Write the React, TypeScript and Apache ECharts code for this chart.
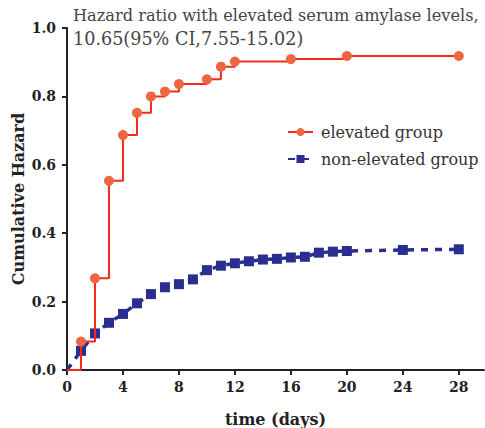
import React, { useEffect, useRef } from "react";
import * as echarts from "echarts";

const elevatedDays = [0, 1, 2, 3, 4, 5, 6, 7, 8, 10, 11, 12, 16, 20, 28];
const elevatedValues = [0, 0.083, 0.268, 0.553, 0.687, 0.752, 0.8, 0.814, 0.836, 0.85, 0.887, 0.902, 0.909, 0.918, 0.918];

const nonElevatedDays = [0, 1, 2, 3, 4, 5, 6, 7, 8, 9, 10, 11, 12, 13, 14, 15, 16, 17, 18, 19, 20, 24, 28];
const nonElevatedValues = [0, 0.056, 0.107, 0.138, 0.164, 0.195, 0.222, 0.242, 0.251, 0.265, 0.292, 0.305, 0.312, 0.318, 0.323, 0.325, 0.329, 0.331, 0.343, 0.346, 0.348, 0.351, 0.353];

const xTicks = [0, 4, 8, 12, 16, 20, 24, 28];
const titleLines = ["Hazard ratio with elevated serum amylase levels,", "10.65(95% CI,7.55-15.02)"];
const seriesNames = ["elevated group", "non-elevated group"];

const FONT = "DejaVu Serif";

export default function App() {
  const ref = useRef<HTMLDivElement>(null);
  useEffect(() => {
    if (!ref.current) return;
    const chart = echarts.init(ref.current, undefined, { renderer: "svg" });
    const red = elevatedDays.map((d, i) => ({
      value: [d, elevatedValues[i]],
      symbolSize: i === 0 ? 0 : 10,
    }));
    const blue = nonElevatedDays.map((d, i) => ({
      value: [d, nonElevatedValues[i]],
      symbolSize: i === 0 ? 0 : 10,
    }));
    chart.setOption({
      animation: false,
      backgroundColor: "#ffffff",
      title: {
        text: `{a|${titleLines[0]}}\n{b|${titleLines[1]}}`,
        left: 73,
        top: 4,
        padding: 0,
        textStyle: {
          fontFamily: FONT,
          fontWeight: "normal",
          color: "#444",
          rich: {
            a: { fontFamily: FONT, fontSize: 16.2, color: "#444", lineHeight: 23 },
            b: { fontFamily: FONT, fontSize: 17.6, color: "#444", lineHeight: 23 },
          },
        },
      },
      legend: {
        orient: "vertical",
        left: 282,
        top: 119,
        itemWidth: 25,
        itemHeight: 10,
        itemGap: 11,
        data: seriesNames,
        textStyle: {
          fontFamily: FONT,
          fontSize: 16,
          color: "#333",
          padding: [0, 0, 0, 3],
        },
      },
      grid: { left: 67, right: 1, top: 28, bottom: 58, containLabel: false, outerBoundsMode: "none" },
      xAxis: {
        type: "value",
        min: 0,
        max: 29.8,
        interval: 4,
        name: "time (days)",
        nameLocation: "middle",
        nameGap: 41,
        nameMoveOverlap: false,
        nameTextStyle: { fontFamily: FONT, fontSize: 16, fontWeight: "bold", color: "#222" },
        axisLine: { show: true, lineStyle: { color: "#222", width: 2 } },
        axisTick: { show: true, length: 5, lineStyle: { width: 2, color: "#222" }, customValues: xTicks },
        axisLabel: {
          customValues: xTicks,
          fontFamily: FONT,
          fontSize: 14,
          fontWeight: "bold",
          color: "#222",
          margin: 10,
        },
        splitLine: { show: false },
      },
      yAxis: {
        type: "value",
        min: 0,
        max: 1,
        interval: 0.2,
        name: "Cumulative Hazard",
        nameLocation: "middle",
        nameGap: 41,
        nameMoveOverlap: false,
        nameTextStyle: { fontFamily: FONT, fontSize: 16, fontWeight: "bold", color: "#222" },
        axisLine: { show: true, lineStyle: { color: "#222", width: 2 } },
        axisTick: { show: true, length: 5, lineStyle: { width: 2, color: "#222" } },
        axisLabel: {
          formatter: (v: number) => v.toFixed(1),
          fontFamily: FONT,
          fontSize: 14,
          fontWeight: "bold",
          color: "#222",
          margin: 11,
        },
        splitLine: { show: false },
      },
      series: [
        {
          name: seriesNames[0],
          type: "line",
          step: "end",
          data: red,
          symbol: "circle",
          itemStyle: { color: "#EE6541" },
          lineStyle: { color: "#F5291E", width: 2 },
          z: 3,
        },
        {
          name: seriesNames[1],
          type: "line",
          data: blue,
          symbol: "rect",
          itemStyle: { color: "#2A2E91" },
          lineStyle: { color: "#2A2E91", width: 3.5, type: [7, 7] },
          z: 2,
        },
      ],
    });
    return () => chart.dispose();
  }, []);
  return (
    <div
      ref={ref}
      style={{ position: "absolute", left: 0, top: 0, width: 485, height: 428 }}
    />
  );
}
